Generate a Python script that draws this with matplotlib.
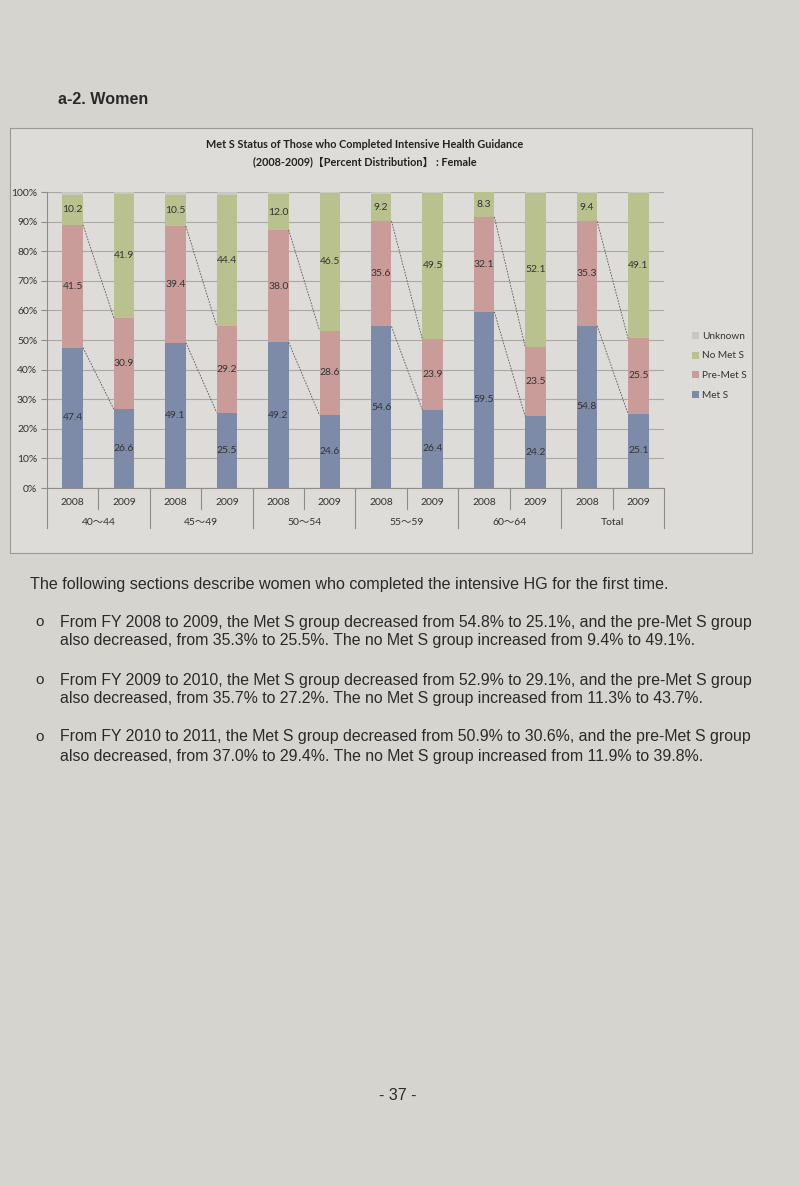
import numpy as np
import matplotlib.pyplot as plt
from matplotlib.patches import Rectangle

### data
groups = ['40～44', '45～49', '50～54', '55～59', '60～64', 'Total']
years = ['2008', '2009']
mets_2008 = [47.4, 49.1, 49.2, 54.6, 59.5, 54.8]
mets_2009 = [26.6, 25.5, 24.6, 26.4, 24.2, 25.1]
pre_2008 = [41.5, 39.4, 38.0, 35.6, 32.1, 35.3]
pre_2009 = [30.9, 29.2, 28.6, 23.9, 23.5, 25.5]
nomets_2008 = [10.2, 10.5, 12.0, 9.2, 8.3, 9.4]
nomets_2009 = [41.9, 44.4, 46.5, 49.5, 52.1, 49.1]
unknown_2008 = [0.9, 1.0, 0.8, 0.6, 0.1, 0.5]
unknown_2009 = [0.6, 0.9, 0.3, 0.2, 0.2, 0.3]
series_names = ['Met S', 'Pre-Met S', 'No Met S', 'Unknown']
colors = ['#7d8aa8', '#c99c9a', '#b9c28e', '#c8c7c2']

title1 = 'Met S Status of Those who Completed Intensive Health Guidance'
title2 = '(2008-2009)【Percent Distribution】 : Female'
heading = 'a-2. Women'
intro = 'The following sections describe women who completed the intensive HG for the first time.'
bullets = [
  ('From FY 2008 to 2009, the Met S group decreased from 54.8% to 25.1%, and the pre-Met S group',
   'also decreased, from 35.3% to 25.5%. The no Met S group increased from 9.4% to 49.1%.'),
  ('From FY 2009 to 2010, the Met S group decreased from 52.9% to 29.1%, and the pre-Met S group',
   'also decreased, from 35.7% to 27.2%. The no Met S group increased from 11.3% to 43.7%.'),
  ('From FY 2010 to 2011, the Met S group decreased from 50.9% to 30.6%, and the pre-Met S group',
   'also decreased, from 37.0% to 29.4%. The no Met S group increased from 11.9% to 39.8%.'),
]
page_no = '- 37 -'

# interleave 2008/2009 per group
def inter(a, b):
  return [v for pair in zip(a, b) for v in pair]

vals = [inter(mets_2008, mets_2009), inter(pre_2008, pre_2009),
        inter(nomets_2008, nomets_2009), inter(unknown_2008, unknown_2009)]

W, H = 800, 1185
page_bg = '#d6d4cf'
box_bg = '#dedcd8'
ink = '#333333'
cjk = ['Lato', 'Noto Sans CJK JP', 'DejaVu Sans']

fig = plt.figure(figsize=(W/100, H/100), dpi=100, facecolor=page_bg)

def fx(px): return px / W
def fy(py): return 1 - py / H

# chart box
box = Rectangle((fx(10), fy(553)), fx(752) - fx(10), fy(128) - fy(553),
                transform=fig.transFigure, facecolor=box_bg, edgecolor='#9a9995', lw=0.8, zorder=-5)
fig.patches.append(box)

ax = fig.add_axes([fx(47), fy(488), fx(664) - fx(47), fy(192) - fy(488)])
ax.set_facecolor('none')
n = len(vals[0])
x = np.arange(n)
bw = 0.4
bottom = np.zeros(n)
for v, c, name in zip(vals, colors, series_names):
  ax.bar(x, v, bw, bottom=bottom, color=c, label=name, zorder=3, edgecolor='none')
  if name != 'Unknown':
    for xi, vi, bi in zip(x, v, bottom):
      ax.text(xi, bi + vi / 2, '{:.1f}'.format(vi), ha='center', va='center',
              fontsize=7.5, family='Lato', color=ink, zorder=5)
  bottom = bottom + np.array(v)

# series lines between 2008 and 2009 (Met S top, Pre-Met S top)
cum = np.cumsum(np.array(vals), axis=0)
for k in range(len(groups)):
  i0, i1 = 2 * k, 2 * k + 1
  for lev in (0, 1):
    ax.plot([x[i0] + bw / 2, x[i1] - bw / 2], [cum[lev][i0], cum[lev][i1]],
            color='#555555', lw=0.6, ls=(0, (2, 1.5)), zorder=4)

ax.set_xlim(-0.5, n - 0.5)
ax.set_ylim(0, 100)
ax.set_yticks(np.arange(0, 101, 10))
ax.set_yticklabels(['{}%'.format(t) for t in range(0, 101, 10)], family='Lato', fontsize=7.5, color=ink)
ax.yaxis.grid(True, color='#a9a8a3', lw=0.8, zorder=0)
for s in ['top', 'right']:
  ax.spines[s].set_visible(False)
ax.spines['left'].set_color('#8d8c88')
ax.spines['bottom'].set_color('#8d8c88')
ax.tick_params(axis='y', length=4, color='#8d8c88', pad=3)
ax.set_xticks(x)
ax.set_xticklabels(years * len(groups), family='Lato', fontsize=7.5, color=ink)
ax.tick_params(axis='x', length=0, pad=7)

# group labels and separators
for k, g in enumerate(groups):
  ax.text(2 * k + 0.5, -11.5, g, ha='center', va='center', family=cjk, fontsize=7.5,
          color=ink, clip_on=False)
  ax.plot([2 * k + 0.5, 2 * k + 0.5], [0, -7], color='#8d8c88', lw=0.8, clip_on=False)
for k in range(len(groups) + 1):
  ax.plot([2 * k - 0.5, 2 * k - 0.5], [0, -13.5], color='#8d8c88', lw=0.8, clip_on=False)

# legend (reversed order like excel)
h, l = ax.get_legend_handles_labels()
leg = fig.legend(h[::-1], l[::-1], loc='upper left', bbox_to_anchor=(fx(683), fy(323)),
                 frameon=False, prop={'family': 'Lato', 'size': 7.2}, handlelength=0.7,
                 handleheight=0.7, handletextpad=0.3, labelspacing=1.05)
for t in leg.get_texts():
  t.set_color(ink)

fig.text(fx(365), fy(145), title1, ha='center', va='center', family='Lato', weight='bold',
         fontsize=7.8, color='#222222')
fig.text(fx(365), fy(162), title2, ha='center', va='center', family=cjk, weight='bold',
         fontsize=7.8, color='#222222')

# page text
txt = '#2a2a2a'
fig.text(fx(58), fy(100), heading, ha='left', va='center', family='Liberation Sans',
         weight='bold', fontsize=11.6, color=txt)
fig.text(fx(30), fy(585), intro, ha='left', va='center', family='Liberation Sans',
         fontsize=11.6, color=txt)
ys = [622, 680, 737]
for y0, (a, b) in zip(ys, bullets):
  fig.text(fx(35), fy(y0), 'o', ha='left', va='center', family='Liberation Sans',
           fontsize=11, color=txt)
  fig.text(fx(60), fy(y0), a, ha='left', va='center', family='Liberation Sans',
           fontsize=11.4, color=txt)
  fig.text(fx(60), fy(y0 + 19), b, ha='left', va='center', family='Liberation Sans',
           fontsize=11.4, color=txt)
fig.text(fx(398), fy(1095), page_no, ha='center', va='center', family='Liberation Sans',
         fontsize=11.5, color=txt)

plt.savefig('out.png', dpi=100, facecolor=page_bg)
